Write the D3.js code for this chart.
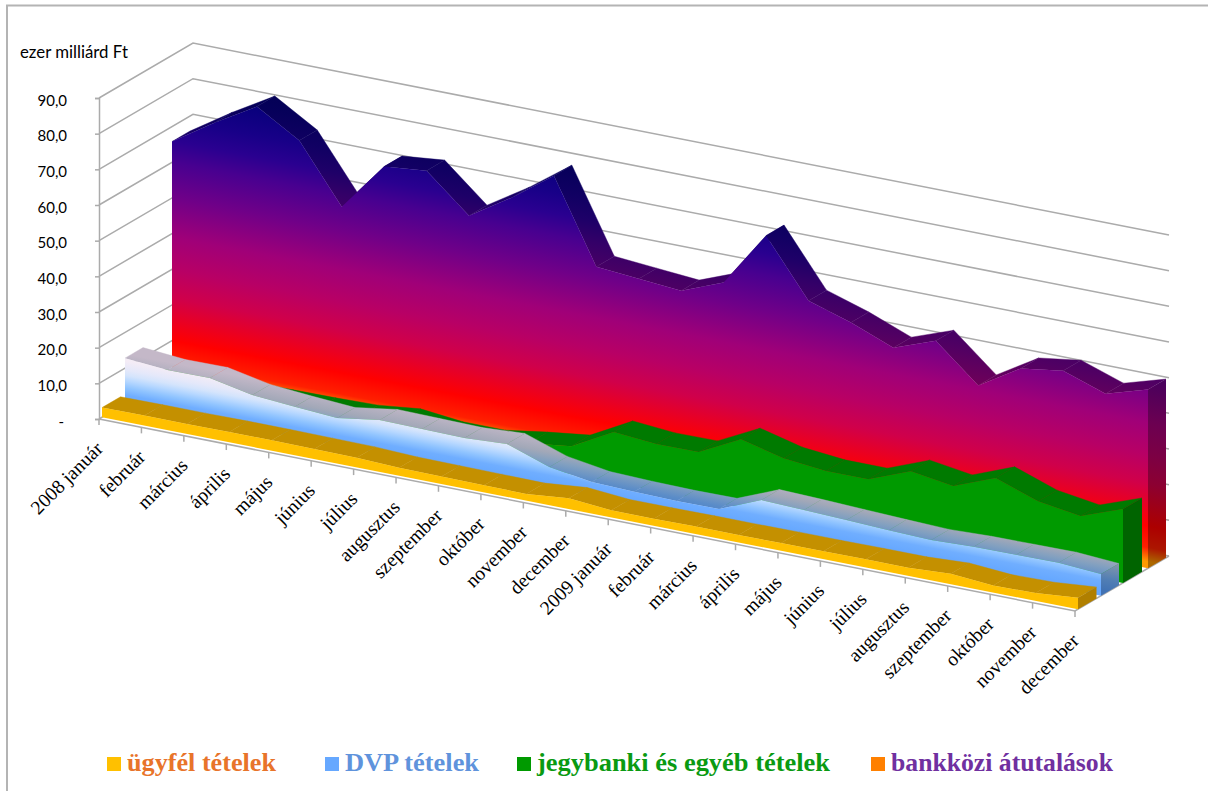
<!DOCTYPE html>
<html>
<head>
<meta charset="utf-8">
<script src="https://cdn.jsdelivr.net/npm/d3@7"></script>
<style>
  html, body { margin: 0; padding: 0; background: #fff; }
  svg { display: block; }
</style>
</head>
<body>
<svg id="chart" width="1208" height="791"></svg>
<script>
// ── Data (ezer milliárd Ft) ───────────────────────────────────────────────
const MONTHS = ['2008 január', 'február', 'március', 'április', 'május', 'június', 'július',
  'augusztus', 'szeptember', 'október', 'november', 'december', '2009 január', 'február',
  'március', 'április', 'május', 'június', 'július', 'augusztus', 'szeptember', 'október',
  'november', 'december'];
const Y_TICKS = [0, 10, 20, 30, 40, 50, 60, 70, 80, 90];

const UGYFEL = [2.7, 2.8, 2.8, 2.9, 2.9, 2.8, 2.7, 2.2, 2.1, 2.0, 1.9, 3.0, 2.0, 2.0, 2.1, 2.1, 2.2, 2.2, 2.3, 2.3, 2.9, 2.0, 2.2, 3.2];
const DVP = [12.8, 11.8, 11.9, 9.5, 8.5, 7.7, 9.5, 9.3, 9.1, 9.8, 5.7, 3.8, 3.4, 3.2, 3.3, 8.1, 7.7, 7.2, 6.7, 6.3, 6.7, 6.8, 6.9, 6.1];
const JEGYBANKI = [3.0, 3.5, 4.0, 4.2, 4.3, 4.6, 5.9, 4.6, 4.6, 6.4, 7.9, 14.2, 13.2, 13.3, 19.2, 16.2, 15.0, 15.0, 19.6, 17.8, 22.4, 18.2, 16.4, 20.7];
const BANKKOZI = [65.8, 73.4, 80.3, 73.1, 56.9, 70.5, 71.7, 61.4, 68.8, 77.3, 54.1, 53.1, 52.1, 56.7, 72.2, 56.3, 52.5, 47.8, 52.1, 41.9, 49.0, 50.7, 46.6, 50.1];

const LEGEND_NAMES = ['ügyfél tételek', 'DVP tételek', 'jegybanki és egyéb tételek', 'bankközi átutalások'];
const LEGEND_SWATCH = ['#ffc000', '#66a8ff', '#009a00', '#ff8000'];
const LEGEND_TEXT = ['#e8742a', '#5f93dc', '#0a9a12', '#7030a0'];
const LEGEND_X = [107, 325, 517, 871];
const LEGEND_W = [149, 134, 293, 222];

// ── Oblique projection of the 3-D box ─────────────────────────────────────
const ORIGIN = [99, 419];
const monthX = d3.scaleLinear().domain([0, 23]).range([0, 976]);
const monthY = d3.scaleLinear().domain([0, 23]).range([0, 192]);
const depthX = d3.scaleLinear().domain([0, 1]).range([0, 94]);
const depthY = d3.scaleLinear().domain([0, 1]).range([0, -55]);
const valueY = d3.scaleLinear().domain([0, 90]).range([0, -321]);

function project(i, d, v) {
  return [ORIGIN[0] + monthX(i) + depthX(d), ORIGIN[1] + monthY(i) + depthY(d) + valueY(v)];
}

const GRAD_SLOPE = 0.19; // iso-colour lines run nearly along the floor
const svg = d3.select('#chart');
const defs = svg.append('defs');
const poly = d3.line();

function gradient(id, vMax, stops, depth, darken) {
  const yAt0 = v => {
    const p = project(0, depth, v);
    return p[1] - p[0] * GRAD_SLOPE;
  };
  const g = defs.append('linearGradient')
    .attr('id', id)
    .attr('gradientUnits', 'userSpaceOnUse')
    .attr('x1', 0).attr('x2', 0)
    .attr('y1', yAt0(vMax)).attr('y2', yAt0(0))
    .attr('gradientTransform', `skewY(${Math.atan(GRAD_SLOPE) * 180 / Math.PI})`);
  stops.forEach(s => {
    const c = darken ? d3.color(s[1]).darker(darken) : d3.color(s[1]);
    g.append('stop').attr('offset', 1 - s[0] / vMax).attr('stop-color', c.formatHex());
  });
}

const PURPLE_STOPS = [[90, '#00006e'], [80, '#08007c'], [72, '#180088'], [66, '#2a0090'], [60, '#480090'], [50, '#700088'], [39, '#a00078'], [30, '#b80065'], [22, '#d0004a'], [14, '#f00018'], [10, '#ff0000'], [4, '#ff2000'], [0, '#ff9a00']];
const BLUE_STOPS = [[14, '#f6eef6'], [12, '#f4ecf6'], [9.5, '#e4e8fa'], [8, '#d4e4fc'], [6.5, '#b8d8ff'], [4.5, '#90c4ff'], [2.5, '#70aeff'], [0, '#66a8ff']];
const BLUE_TOP_STOPS = [[14, '#c4b8c8'], [9, '#a2a8b8'], [6.5, '#82a0c0'], [3, '#5a8cc8'], [0, '#4a80c8']];

const PURPLE_D = 73 / 94, BLUE_D = 26 / 94;
gradient('g-purple', 90, PURPLE_STOPS, PURPLE_D);
gradient('g-purple-top', 90, PURPLE_STOPS, PURPLE_D, 0.9);
gradient('g-purple-side', 90, PURPLE_STOPS, PURPLE_D, 1.1);
gradient('g-blue', 14, BLUE_STOPS, BLUE_D);
gradient('g-blue-top', 14, BLUE_TOP_STOPS, BLUE_D);
gradient('g-blue-side', 14, BLUE_TOP_STOPS, BLUE_D, 0.3);

// Back to front, front/back are depth fractions of the floor
const SERIES = [
  { values: BANKKOZI, front: PURPLE_D, back: 91 / 94, face: 'url(#g-purple)', top: 'url(#g-purple-top)', side: 'url(#g-purple-side)' },
  { values: JEGYBANKI, front: 48 / 94, back: 67 / 94, face: '#009a00', top: '#007a00', side: '#006400' },
  { values: DVP, front: BLUE_D, back: 44 / 94, face: 'url(#g-blue)', top: 'url(#g-blue-top)', side: 'url(#g-blue-side)' },
  { values: UGYFEL, front: 3 / 94, back: 21.5 / 94, face: '#ffc000', top: '#c49000', side: '#b07f00' }
];

// ── Frame around the chart ────────────────────────────────────────────────
svg.append('path')
  .attr('d', 'M7,791V5.5H1208')
  .attr('fill', 'none').attr('stroke', '#b4b4b4').attr('stroke-width', 2);

// ── Walls and gridlines ───────────────────────────────────────────────────
const grid = svg.append('g').attr('fill', 'none').attr('stroke', '#ababab').attr('stroke-width', 1.5);
Y_TICKS.forEach(v => {
  grid.append('path').attr('d', poly([project(0, 0, v), project(0, 1, v), project(23, 1, v)]));
});
grid.append('path').attr('d', poly([project(0, 0, 0), project(23, 0, 0), project(23, 1, 0)]));

const yAxis = d3.axisLeft(d3.scaleLinear().domain([0, 90]).range([ORIGIN[1], ORIGIN[1] + valueY(90)]))
  .tickValues(Y_TICKS)
  .tickSize(4)
  .tickPadding(28)
  .tickFormat(v => v === 0 ? '-' : d3.format('.1f')(v).replace('.', ','));
const yG = svg.append('g').attr('transform', `translate(${ORIGIN[0]},0)`).call(yAxis);
yG.select('.domain').attr('stroke', '#ababab').attr('stroke-width', 1.5);
yG.selectAll('.tick line').attr('stroke', '#ababab').attr('stroke-width', 1.5);
yG.selectAll('.tick text')
  .attr('fill', '#000')
  .attr('dy', '0.48em')
  .style('font', '15px Lato, "Open Sans", sans-serif');
yG.selectAll('.tick text').filter(v => v === 0).attr('dx', -3);

svg.append('text')
  .attr('x', 20).attr('y', 58)
  .attr('fill', '#000')
  .style('font', '16.8px Lato, "Open Sans", sans-serif')
  .text('ezer milliárd Ft');

// ── Series ────────────────────────────────────────────────────────────────
SERIES.forEach(s => {
  const g = svg.append('g');
  const last = s.values.length - 1;

  s.values.slice(0, last).forEach((v, i) => {
    const next = s.values[i + 1];
    g.append('path')
      .attr('d', poly([project(i, s.front, v), project(i + 1, s.front, next), project(i + 1, s.back, next), project(i, s.back, v)]) + 'Z')
      .attr('fill', s.top).attr('stroke', s.top).attr('stroke-width', 0.4);
  });

  g.append('path')
    .attr('d', poly([project(last, s.front, 0), project(last, s.back, 0), project(last, s.back, s.values[last]), project(last, s.front, s.values[last])]) + 'Z')
    .attr('fill', s.side);

  const facePts = s.values.map((v, i) => project(i, s.front, v));
  facePts.push(project(last, s.front, 0), project(0, s.front, 0));
  g.append('path').attr('d', poly(facePts) + 'Z').attr('fill', s.face);
});

// ── Month axis ────────────────────────────────────────────────────────────
const xG = svg.append('g');
MONTHS.forEach((m, i) => {
  const [x, y] = project(i, 0, 0);
  xG.append('line')
    .attr('x1', x).attr('y1', y).attr('x2', x).attr('y2', y + 6)
    .attr('stroke', '#ababab').attr('stroke-width', 1.5);
  xG.append('text')
    .attr('transform', `translate(${x + 5},${y + 31}) rotate(-45)`)
    .attr('text-anchor', 'end')
    .attr('fill', '#000')
    .style('font', '19.5px "Liberation Serif", serif')
    .text(m);
});

// ── Legend ────────────────────────────────────────────────────────────────
LEGEND_NAMES.forEach((name, i) => {
  svg.append('rect')
    .attr('x', LEGEND_X[i]).attr('y', 757).attr('width', 14).attr('height', 14)
    .attr('fill', LEGEND_SWATCH[i]);
  svg.append('text')
    .attr('x', LEGEND_X[i] + 20).attr('y', 771)
    .attr('fill', LEGEND_TEXT[i])
    .attr('textLength', LEGEND_W[i])
    .attr('lengthAdjust', 'spacingAndGlyphs')
    .style('font', 'bold 26px "Liberation Serif", serif')
    .text(name);
});
</script>
</body>
</html>
